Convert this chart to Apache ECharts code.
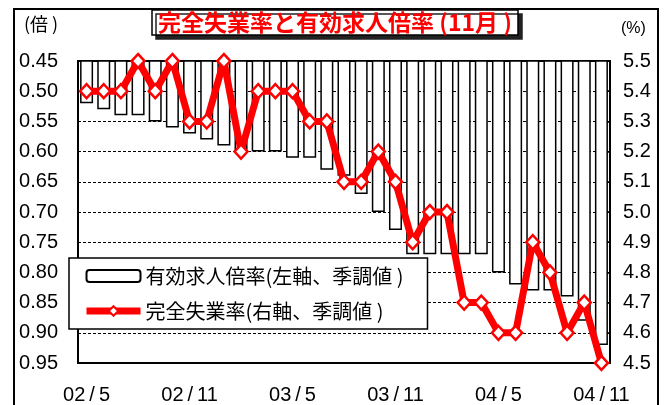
<!DOCTYPE html>
<html>
<head>
<meta charset="utf-8">
<script src="https://cdn.jsdelivr.net/npm/echarts@6/dist/echarts.min.js"></script>
<style>
  html, body { margin: 0; padding: 0; background: #fff; }
  #chart { width: 665px; height: 405px; }
</style>
</head>
<body>
<div id="chart"></div>
<script>
  // 月 (02/5 ～ 04/11)
  const months = [
    '02/5', '02/6', '02/7', '02/8', '02/9', '02/10', '02/11', '02/12',
    '03/1', '03/2', '03/3', '03/4', '03/5', '03/6', '03/7', '03/8', '03/9', '03/10', '03/11', '03/12',
    '04/1', '04/2', '04/3', '04/4', '04/5', '04/6', '04/7', '04/8', '04/9', '04/10', '04/11'
  ]
  // 有効求人倍率 (左軸、倍)
  const jobRatio = [
    0.52, 0.53, 0.54, 0.54, 0.55, 0.56, 0.57, 0.58,
    0.59, 0.60, 0.60, 0.60, 0.61, 0.61, 0.63, 0.64, 0.67, 0.70, 0.73, 0.77,
    0.77, 0.77, 0.77, 0.77, 0.80, 0.82, 0.83, 0.83, 0.84, 0.88, 0.92
  ]
  // 完全失業率 (右軸、%)
  const unemployment = [
    5.4, 5.4, 5.4, 5.5, 5.4, 5.5, 5.3, 5.3,
    5.5, 5.2, 5.4, 5.4, 5.4, 5.3, 5.3, 5.1, 5.1, 5.2, 5.1, 4.9,
    5.0, 5.0, 4.7, 4.7, 4.6, 4.6, 4.9, 4.8, 4.6, 4.7, 4.5
  ]

  const font = "'Liberation Sans', 'Noto Sans CJK JP', sans-serif"
  const jpFont = "'Noto Sans CJK JP', sans-serif"

  const chart = echarts.init(document.getElementById('chart'))
  chart.setOption({
    animation: false,
    backgroundColor: '#fff',
    textStyle: { fontFamily: font, color: '#000' },
    title: {
      text: '完全失業率と有効求人倍率 (11月 )',
      left: 152,
      top: 10,
      padding: [1, 6, 1, 6],
      backgroundColor: '#fff',
      borderColor: '#000',
      borderWidth: 1.5,
      shadowColor: '#222',
      shadowBlur: 0,
      shadowOffsetX: 4,
      shadowOffsetY: 4,
      textStyle: {
        color: '#ff0000',
        fontSize: 23,
        fontWeight: 'bold',
        fontFamily: jpFont
      }
    },
    graphic: [
      {
        type: 'rect',
        z: -1,
        shape: { x: 14, y: 9, width: 644, height: 420 },
        style: { fill: 'none', stroke: '#000', lineWidth: 2 }
      },
      {
        type: 'text',
        left: 24,
        top: 15,
        style: { text: '(倍 )', fontSize: 18, fontFamily: jpFont, fill: '#000' }
      },
      {
        type: 'text',
        left: 621,
        top: 21,
        style: { text: '(%)', fontSize: 16, fontFamily: font, fill: '#000' }
      }
    ],
    legend: {
      orient: 'vertical',
      left: 69,
      top: 258,
      padding: [8, 24, 8, 14],
      itemGap: 15,
      itemWidth: 54,
      itemHeight: 12,
      backgroundColor: '#fff',
      borderColor: '#000',
      borderWidth: 1.5,
      textStyle: { fontSize: 20, fontFamily: jpFont, color: '#000' },
      data: [
        { name: '有効求人倍率(左軸、季調値 )' },
        { name: '完全失業率(右軸、季調値 )', lineStyle: { width: 7 } }
      ]
    },
    grid: {
      left: 78,
      right: 55,
      top: 61,
      bottom: 42,
      show: true,
      borderColor: '#000',
      borderWidth: 2,
      backgroundColor: '#fff'
    },
    xAxis: {
      type: 'category',
      data: months,
      axisLine: { lineStyle: { color: '#000', width: 2 } },
      axisTick: { show: false },
      axisLabel: {
        interval: 5,
        margin: 22,
        fontSize: 20,
        color: '#000',
        formatter: v => v.replace('/', '\u2009/\u2009')
      }
    },
    yAxis: [{
      type: 'value',
      inverse: true,
      min: 0.45,
      max: 0.95,
      interval: 0.05,
      axisLine: { show: true, lineStyle: { color: '#000', width: 2 } },
      axisTick: { show: false },
      axisLabel: {
        fontSize: 20,
        color: '#000',
        margin: 20,
        formatter: v => v.toFixed(2)
      },
      splitLine: { lineStyle: { color: '#000', width: 1, type: [3, 2] } }
    }, {
      type: 'value',
      min: 4.5,
      max: 5.5,
      interval: 0.1,
      axisLine: { show: true, lineStyle: { color: '#000', width: 2 } },
      axisTick: { show: true, inside: true, length: 9, lineStyle: { color: '#000', width: 1.5 } },
      axisLabel: {
        fontSize: 20,
        color: '#000',
        margin: 13,
        formatter: v => v.toFixed(1)
      },
      splitLine: { show: false }
    }],
    series: [
      {
        name: '有効求人倍率(左軸、季調値 )',
        type: 'bar',
        yAxisIndex: 0,
        barWidth: 13,
        data: jobRatio,
        itemStyle: {
          color: '#fff',
          borderColor: '#000',
          borderWidth: 1.5
        }
      },
      {
        name: '完全失業率(右軸、季調値 )',
        type: 'line',
        yAxisIndex: 1,
        data: unemployment,
        clip: false,
        z: 5,
        symbol: 'diamond',
        symbolSize: [13, 14],
        showSymbol: true,
        showAllSymbol: true,
        lineStyle: { color: '#ff0000', width: 7 },
        itemStyle: {
          color: '#fff',
          borderColor: '#ff0000',
          borderWidth: 2.5
        }
      }
    ]
  })
</script>
</body>
</html>
